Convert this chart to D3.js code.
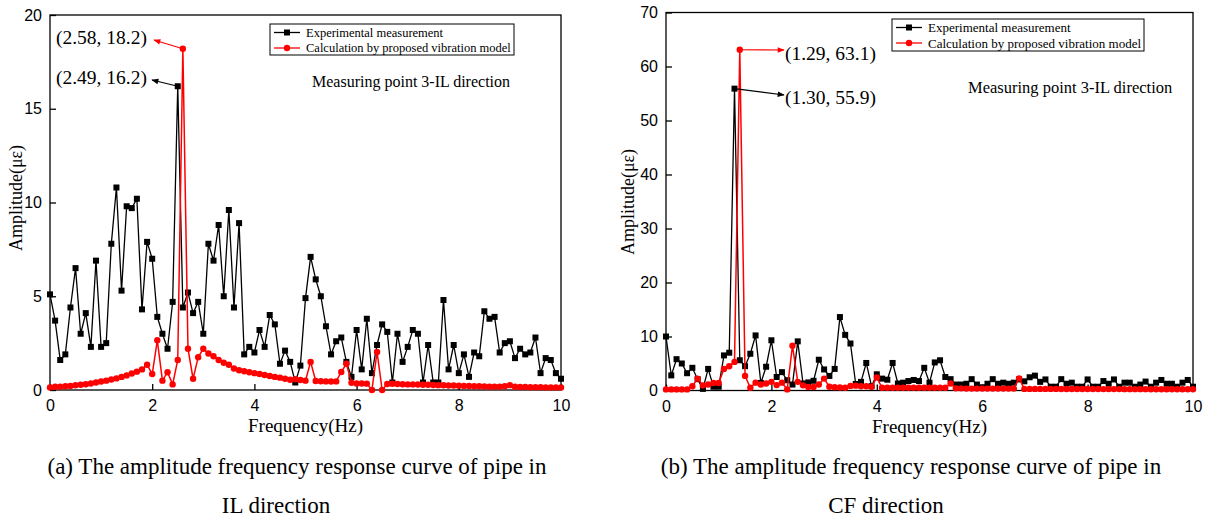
<!DOCTYPE html>
<html>
<head>
<meta charset="utf-8">
<script src="https://cdn.jsdelivr.net/npm/d3@7"></script>
<style>
  body { margin: 0; background: #fff; }
  svg { display: block; font-family: "Liberation Serif", "Times New Roman", serif; }
  .axis path, .axis line { stroke: #000; stroke-width: 1.3; }
  .axis text { font-size: 16px; fill: #000; }
</style>
</head>
<body>
<svg id="chart" width="1213" height="519"></svg>
<script>
// frequency grid, 0..10 Hz every 0.1 Hz
const freqs = d3.range(101).map(i => i / 10);

// (a) IL direction
const ilMeasured = [
  5.1, 3.7, 1.6, 1.9, 4.4, 6.5, 3.0, 4.1, 2.3, 6.9,
  2.3, 2.5, 7.8, 10.8, 5.3, 9.8, 9.7, 10.2, 4.3, 7.9,
  7.0, 3.9, 3.0, 2.2, 4.7, 16.2, 4.4, 5.2, 4.1, 4.7,
  3.0, 7.8, 6.9, 8.8, 5.0, 9.6, 4.4, 8.9, 1.9, 2.3,
  2.0, 3.2, 2.3, 4.0, 3.5, 1.4, 2.1, 1.5, 0.4, 1.3,
  4.9, 7.1, 5.9, 5.0, 3.4, 1.9, 2.6, 2.8, 1.5, 0.7,
  3.2, 1.1, 3.8, 0.9, 2.4, 3.5, 3.1, 0.4, 3.0, 1.5,
  2.3, 3.2, 3.0, 0.4, 2.4, 0.4, 0.4, 4.8, 1.1, 2.4,
  0.9, 1.9, 0.7, 2.0, 1.8, 4.2, 3.8, 3.9, 2.0, 2.5,
  2.6, 1.7, 2.2, 1.9, 2.0, 2.8, 0.9, 1.7, 1.6, 0.9,
  0.6
];
const ilModel = [
  0.14, 0.17, 0.18, 0.2, 0.22, 0.25, 0.28, 0.31, 0.35, 0.4,
  0.45, 0.5, 0.56, 0.62, 0.7, 0.78, 0.88, 0.98, 1.1, 1.35,
  0.85, 2.65, 0.5, 0.95, 0.3, 1.6, 18.2, 2.2, 0.6, 1.75,
  2.2, 1.95, 1.8, 1.6, 1.45, 1.35, 1.15, 1.05, 1.0, 0.95,
  0.9, 0.85, 0.8, 0.75, 0.7, 0.66, 0.6, 0.55, 0.57, 0.53,
  0.5, 1.5, 0.48, 0.47, 0.46, 0.45, 0.46, 0.96, 1.4, 0.39,
  0.35, 0.35, 0.34, 0.0, 2.03, 0.0, 0.32, 0.33, 0.32, 0.31,
  0.3, 0.3, 0.29, 0.28, 0.28, 0.27, 0.26, 0.25, 0.24, 0.24,
  0.23, 0.22, 0.21, 0.2, 0.2, 0.19, 0.18, 0.18, 0.18, 0.2,
  0.26, 0.17, 0.16, 0.16, 0.15, 0.15, 0.15, 0.14, 0.14, 0.14,
  0.14
];

// (b) CF direction
const cfMeasured = [
  10.0, 2.8, 5.8, 5.0, 3.2, 4.2, 2.1, 0.3, 4.0, 0.7,
  0.7, 6.5, 7.0, 55.9, 5.6, 4.5, 6.8, 10.2, 1.4, 4.4,
  9.3, 2.5, 3.4, 1.9, 1.1, 9.1, 1.3, 1.5, 1.8, 5.7,
  3.9, 2.7, 4.0, 13.6, 10.3, 8.7, 1.2, 1.6, 5.1, 0.8,
  3.0, 2.2, 2.0, 5.1, 1.3, 1.45, 1.75, 1.95, 1.75, 4.2,
  1.45, 5.2, 5.6, 2.5, 2.1, 1.1, 1.1, 1.25, 2.1, 1.1,
  0.6, 1.25, 2.1, 1.25, 1.45, 1.25, 1.45, 2.05, 1.7, 2.45,
  2.75, 1.6, 2.05, 0.7, 0.7, 2.1, 1.25, 1.45, 0.7, 0.7,
  2.05, 0.7, 0.7, 1.75, 1.25, 2.05, 0.7, 1.45, 1.45, 0.7,
  1.1, 1.65, 0.7, 1.45, 1.95, 1.25, 1.25, 0.7, 1.45, 1.95,
  0.7
];
const cfModel = [
  0.2, 0.2, 0.2, 0.2, 0.2, 0.8, 2.2, 0.95, 1.1, 1.4,
  1.4, 4.0, 4.5, 5.3, 63.1, 2.7, 0.5, 1.45, 1.1, 1.3,
  1.6, 1.0, 1.45, 0.2, 8.3, 1.6, 0.95, 0.65, 0.65, 1.1,
  2.2, 0.7, 0.6, 0.55, 0.5, 0.85, 0.9, 0.8, 0.8, 0.7,
  2.4, 0.5, 0.5, 0.5, 0.5, 0.5, 0.5, 0.5, 0.5, 0.5,
  0.5, 0.5, 0.5, 0.5, 1.3, 0.4, 0.4, 0.35, 0.35, 0.35,
  0.35, 0.35, 0.35, 0.35, 0.35, 0.35, 0.35, 2.25, 0.3, 0.3,
  0.3, 0.3, 0.3, 0.3, 0.3, 0.28, 0.28, 0.28, 0.28, 0.28,
  0.27, 0.27, 0.27, 0.26, 0.26, 0.26, 0.26, 0.25, 0.25, 0.25,
  0.25, 0.25, 0.24, 0.24, 0.24, 0.24, 0.23, 0.23, 0.23, 0.23,
  0.23
];

const xTicks = [0, 2, 4, 6, 8, 10];
const ilYTicks = [0, 5, 10, 15, 20];
const cfYTicks = [0, 10, 20, 30, 40, 50, 60, 70];
const legendLabels = ['Experimental measurement', 'Calculation by proposed vibration model'];
const noteText = 'Measuring point 3-IL direction';
const captionsA = ['(a) The amplitude frequency response curve of pipe in', 'IL direction'];
const captionsB = ['(b) The amplitude frequency response curve of pipe in', 'CF direction'];

const svg = d3.select('#chart');

// arrow heads
const defs = svg.append('defs');
[['arrowRed', '#ff0000'], ['arrowBlack', '#000']].forEach(([id, c]) => {
    defs.append('marker')
        .attr('id', id)
        .attr('viewBox', '0 0 10 10')
        .attr('refX', 9).attr('refY', 5)
        .attr('markerWidth', 9).attr('markerHeight', 7)
        .attr('markerUnits', 'userSpaceOnUse')
        .attr('orient', 'auto')
      .append('path')
        .attr('d', 'M0,1 L10,5 L0,9 z')
        .attr('fill', c);
});

function drawPanel(cfg) {
    const {left, right, top, bottom} = cfg;
    const xScale = d3.scaleLinear().domain([0, 10]).range([left, right]);
    const yScale = d3.scaleLinear().domain([0, cfg.yMax]).range([bottom, top]);
    const g = svg.append('g');

    //axes
    g.append('g')
        .classed('axis', true)
        .attr('transform', `translate(0, ${bottom})`)
        .call(d3.axisBottom(xScale).tickValues(xTicks).tickSizeInner(-6).tickSizeOuter(0).tickPadding(10));
    g.append('g')
        .classed('axis', true)
        .attr('transform', `translate(${left}, 0)`)
        .call(d3.axisLeft(yScale).tickValues(cfg.yTicks).tickSizeInner(-6).tickSizeOuter(0).tickPadding(8));
    g.selectAll('.axis .domain').remove();

    //frame
    g.append('rect')
        .attr('x', left).attr('y', top)
        .attr('width', right - left).attr('height', bottom - top)
        .attr('fill', 'none').attr('stroke', '#000').attr('stroke-width', 1.3);

    //axis labels
    g.append('text')
        .attr('x', (left + right) / 2).attr('y', bottom + 42)
        .attr('text-anchor', 'middle')
        .attr('font-size', 19)
        .text('Frequency(Hz)');
    g.append('text')
        .attr('transform', `translate(${cfg.yLabelX}, ${cfg.yLabelY}) rotate(-90)`)
        .attr('text-anchor', 'middle')
        .attr('font-size', 18)
        .text('Amplitude(με)');

    //series
    const line = d3.line().x((d, i) => xScale(freqs[i])).y(d => yScale(d));
    g.append('path')
        .attr('d', line(cfg.measured))
        .attr('fill', 'none').attr('stroke', '#000').attr('stroke-width', 1.3);
    g.selectAll('.sq')
        .data(cfg.measured)
        .enter()
        .append('rect')
            .classed('sq', true)
            .attr('x', (d, i) => xScale(freqs[i]) - 3)
            .attr('y', d => yScale(d) - 3)
            .attr('width', 6).attr('height', 6)
            .attr('fill', '#000');

    g.append('path')
        .attr('d', line(cfg.model))
        .attr('fill', 'none').attr('stroke', '#ff0000').attr('stroke-width', 1.5);
    g.selectAll('.dot')
        .data(cfg.model)
        .enter()
        .append('circle')
            .classed('dot', true)
            .attr('cx', (d, i) => xScale(freqs[i]))
            .attr('cy', d => yScale(d))
            .attr('r', 3.2)
            .attr('fill', '#ff0000');

    //legend
    const lg = cfg.legend;
    g.append('rect')
        .attr('x', lg.x).attr('y', lg.y)
        .attr('width', lg.w).attr('height', lg.h)
        .attr('fill', '#fff').attr('stroke', '#000').attr('stroke-width', 1);
    legendLabels.forEach((label, k) => {
        const cy = lg.y + 8.5 + k * 15.5;
        const col = k === 0 ? '#000' : '#ff0000';
        g.append('line')
            .attr('x1', lg.x + 4).attr('x2', lg.x + 30)
            .attr('y1', cy).attr('y2', cy)
            .attr('stroke', col).attr('stroke-width', 1.3);
        if (k === 0) {
            g.append('rect')
                .attr('x', lg.x + 14).attr('y', cy - 3)
                .attr('width', 6).attr('height', 6).attr('fill', col);
        } else {
            g.append('circle')
                .attr('cx', lg.x + 17).attr('cy', cy).attr('r', 3.2).attr('fill', col);
        }
        g.append('text')
            .attr('x', lg.x + 36).attr('y', cy)
            .attr('dy', '0.35em')
            .attr('font-size', lg.fs)
            .text(label);
    });

    g.append('text')
        .attr('x', cfg.note.x).attr('y', cfg.note.y)
        .attr('font-size', cfg.note.fs)
        .text(noteText);

    //peak annotations
    cfg.peaks.forEach(p => {
        const i = freqs.indexOf(p.f);
        const src = p.series === 'model' ? cfg.model : cfg.measured;
        const col = p.series === 'model' ? '#ff0000' : '#000';
        g.append('line')
            .attr('x1', xScale(p.f)).attr('y1', yScale(src[i]))
            .attr('x2', p.ax).attr('y2', p.ay)
            .attr('stroke', col).attr('stroke-width', 1.2)
            .attr('marker-end', `url(#${p.series === 'model' ? 'arrowRed' : 'arrowBlack'})`);
        g.append('text')
            .attr('x', p.tx).attr('y', p.ty)
            .attr('text-anchor', p.anchor)
            .attr('dy', '0.35em')
            .attr('font-size', 19.5)
            .text(p.label);
    });

    //caption
    cfg.caption.forEach((txt, k) => {
        svg.append('text')
            .attr('x', cfg.captionX[k]).attr('y', 474 + k * 39)
            .attr('text-anchor', 'middle')
            .attr('font-size', 23)
            .text(txt);
    });
}

drawPanel({
    left: 50, right: 561, top: 15, bottom: 390,
    yMax: 20, yTicks: ilYTicks,
    measured: ilMeasured, model: ilModel,
    yLabelX: 22, yLabelY: 198,
    legend: {x: 270, y: 24, w: 244, h: 31, fs: 12.5},
    note: {x: 312, y: 87, fs: 16},
    peaks: [
        {f: 2.6, series: 'model', ax: 154, ay: 40, tx: 147, ty: 37, anchor: 'end', label: '(2.58, 18.2)'},
        {f: 2.5, series: 'measured', ax: 152, ay: 80, tx: 147, ty: 77, anchor: 'end', label: '(2.49, 16.2)'}
    ],
    caption: captionsA, captionX: [297, 276]
});

drawPanel({
    left: 666, right: 1193, top: 12.5, bottom: 390.5,
    yMax: 70, yTicks: cfYTicks,
    measured: cfMeasured, model: cfModel,
    yLabelX: 634, yLabelY: 202,
    legend: {x: 892, y: 19, w: 252, h: 32, fs: 13},
    note: {x: 968, y: 93, fs: 16.5},
    peaks: [
        {f: 1.4, series: 'model', ax: 784, ay: 50, tx: 785, ty: 53, anchor: 'start', label: '(1.29, 63.1)'},
        {f: 1.3, series: 'measured', ax: 784, ay: 95, tx: 785, ty: 97, anchor: 'start', label: '(1.30, 55.9)'}
    ],
    caption: captionsB, captionX: [911, 886]
});
</script>
</body>
</html>
